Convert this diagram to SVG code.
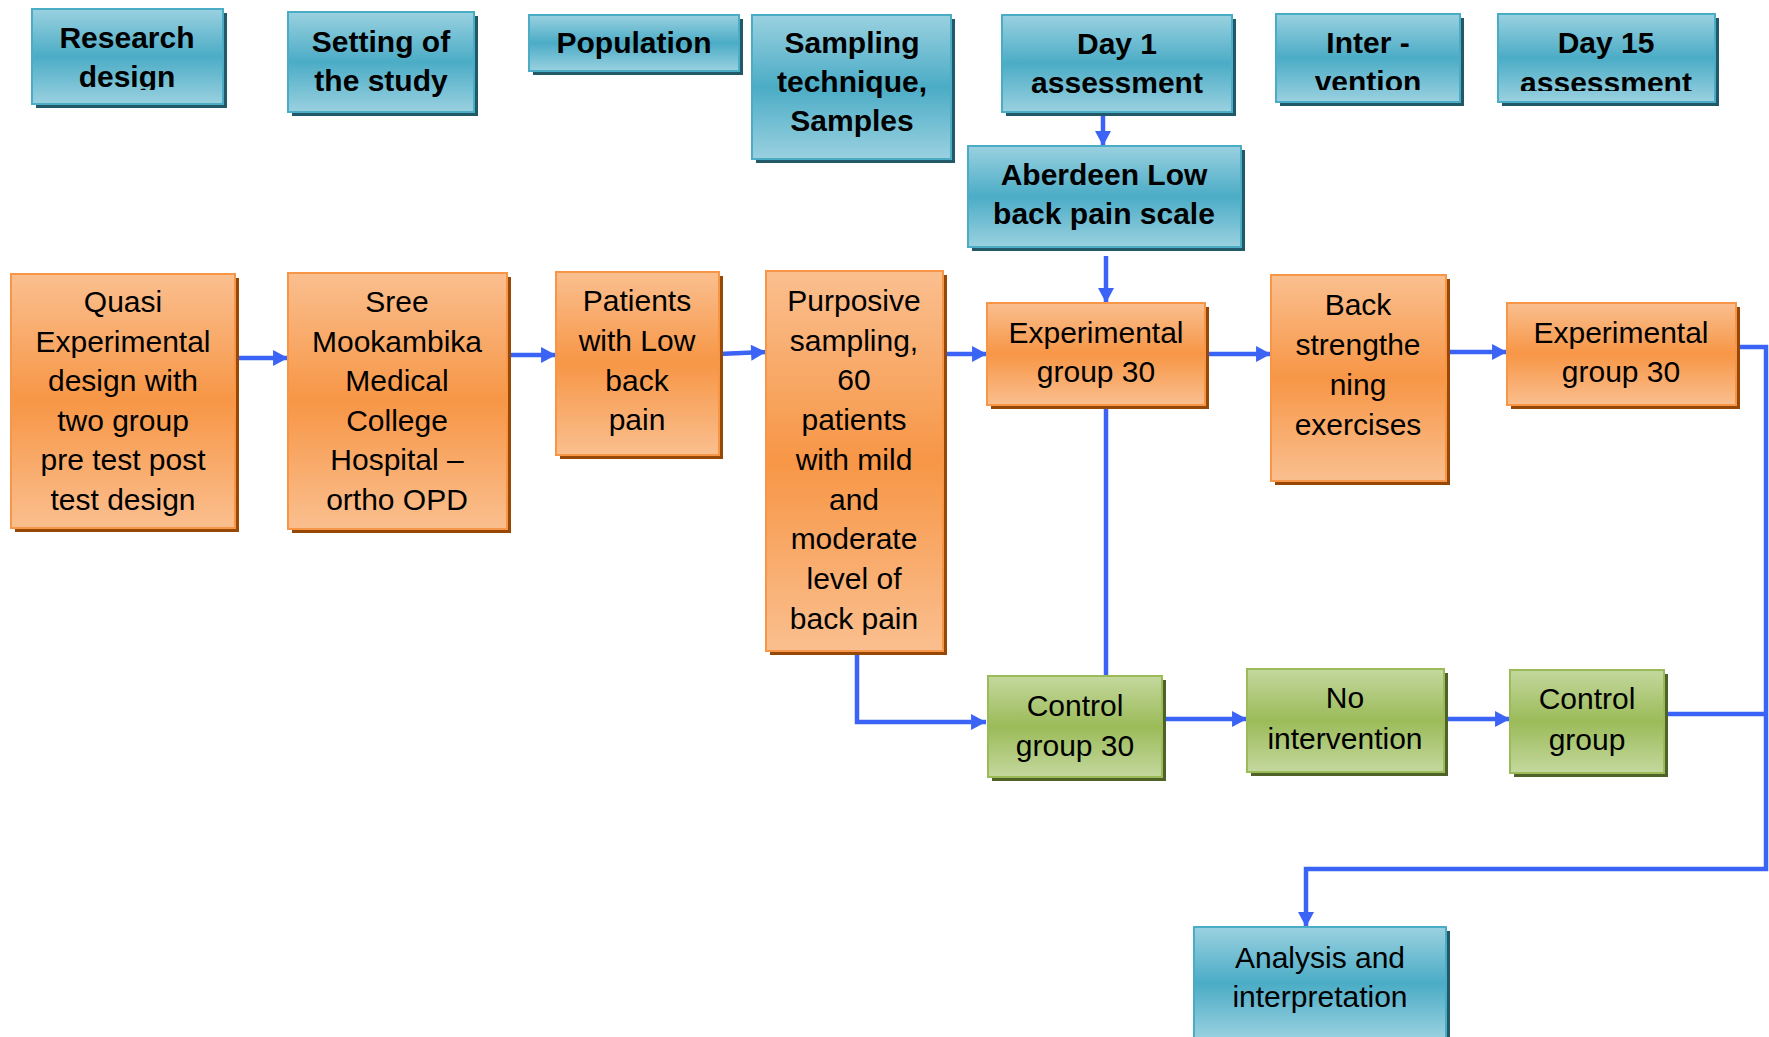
<svg xmlns="http://www.w3.org/2000/svg" width="1769" height="1037" viewBox="0 0 1769 1037">
<defs>
<linearGradient id="gBlue" x1="0" y1="0" x2="0" y2="1">
<stop offset="0" stop-color="#9ad1e0"/><stop offset="0.5" stop-color="#4bacc6"/><stop offset="1" stop-color="#9ad1e0"/>
</linearGradient>
<linearGradient id="gOrange" x1="0" y1="0" x2="0" y2="1">
<stop offset="0" stop-color="#fabf8f"/><stop offset="0.5" stop-color="#f79646"/><stop offset="1" stop-color="#fabf8f"/>
</linearGradient>
<linearGradient id="gGreen" x1="0" y1="0" x2="0" y2="1">
<stop offset="0" stop-color="#c4d89e"/><stop offset="0.5" stop-color="#9bbb59"/><stop offset="1" stop-color="#c4d89e"/>
</linearGradient>
<marker id="arr" markerUnits="userSpaceOnUse" markerWidth="16" markerHeight="16" refX="14" refY="7.5" orient="auto" viewBox="0 0 14 15">
<path d="M0,0 L14,7.5 L0,15 z" fill="#3b64f6"/>
</marker>
<clipPath id="clipRD"><rect x="30" y="0" width="200" height="90"/></clipPath>
<clipPath id="clipInt"><rect x="1270" y="0" width="200" height="90"/></clipPath>
<clipPath id="clipD15"><rect x="1490" y="0" width="230" height="91"/></clipPath>
</defs>
<style>
.sb{fill:#215968}
.so{fill:#984806}
.sg{fill:#4f6228}
.bb{fill:url(#gBlue);stroke:#4bacc6;stroke-width:2}
.bo{fill:url(#gOrange);stroke:#f79646;stroke-width:2}
.bg{fill:url(#gGreen);stroke:#9bbb59;stroke-width:2}
text{font-family:"Liberation Sans",Arial,sans-serif;font-size:30px;fill:#000;text-anchor:middle}
.h{font-weight:bold}
.c{fill:none;stroke:#3b64f6;stroke-width:4.5}
</style>

<g id="connectors">
<path class="c" d="M235,358 H288" marker-end="url(#arr)"/>
<path class="c" d="M507,355 H556" marker-end="url(#arr)"/>
<path class="c" d="M719,354 L766,352" marker-end="url(#arr)"/>
<path class="c" d="M943,354 H987" marker-end="url(#arr)"/>
<path class="c" d="M1103,112 V146" marker-end="url(#arr)"/>
<path class="c" d="M1106,256 V303" marker-end="url(#arr)"/>
<path class="c" d="M1106,406 V676"/>
<path class="c" d="M857,652 V722 H986" marker-end="url(#arr)"/>
<path class="c" d="M1205,354 H1271" marker-end="url(#arr)"/>
<path class="c" d="M1446,352 H1507" marker-end="url(#arr)"/>
<path class="c" d="M1162,719 H1247" marker-end="url(#arr)"/>
<path class="c" d="M1444,719 H1510" marker-end="url(#arr)"/>
<path class="c" d="M1740,347 H1766 V869 H1306 V927" marker-end="url(#arr)"/>
<path class="c" d="M1668,714 H1766"/>
</g>

<g id="research-design">
<rect class="sb" x="36" y="13" width="191" height="95"/>
<rect class="bb" x="32" y="9" width="191" height="95"/>
<g clip-path="url(#clipRD)"><text class="h" x="127" y="48">Research</text><text class="h" x="127" y="87">design</text></g>
</g>
<g id="setting">
<rect class="sb" x="292" y="16" width="186" height="100"/>
<rect class="bb" x="288" y="12" width="186" height="100"/>
<text class="h" x="381" y="52">Setting of</text><text class="h" x="381" y="91">the study</text>
</g>
<g id="population">
<rect class="sb" x="533" y="19" width="210" height="56"/>
<rect class="bb" x="529" y="15" width="210" height="56"/>
<text class="h" x="634" y="53">Population</text>
</g>
<g id="sampling">
<rect class="sb" x="756" y="19" width="199" height="144"/>
<rect class="bb" x="752" y="15" width="199" height="144"/>
<text class="h" x="852" y="53">Sampling</text><text class="h" x="852" y="92">technique,</text><text class="h" x="852" y="131">Samples</text>
</g>
<g id="day1">
<rect class="sb" x="1006" y="19" width="230" height="97"/>
<rect class="bb" x="1002" y="15" width="230" height="97"/>
<text class="h" x="1117" y="54">Day 1</text><text class="h" x="1117" y="93">assessment</text>
</g>
<g id="intervention">
<rect class="sb" x="1280" y="18" width="184" height="88"/>
<rect class="bb" x="1276" y="14" width="184" height="88"/>
<g clip-path="url(#clipInt)"><text class="h" x="1368" y="53">Inter -</text><text class="h" x="1368" y="92">vention</text></g>
</g>
<g id="day15">
<rect class="sb" x="1502" y="18" width="217" height="88"/>
<rect class="bb" x="1498" y="14" width="217" height="88"/>
<g clip-path="url(#clipD15)"><text class="h" x="1606" y="53">Day 15</text><text class="h" x="1606" y="93">assessment</text></g>
</g>
<g id="aberdeen">
<rect class="sb" x="972" y="150" width="273" height="101"/>
<rect class="bb" x="968" y="146" width="273" height="101"/>
<text class="h" x="1104" y="185">Aberdeen Low</text><text class="h" x="1104" y="224">back pain scale</text>
</g>

<g id="quasi">
<rect class="so" x="15" y="278" width="224" height="254"/>
<rect class="bo" x="11" y="274" width="224" height="254"/>
<text x="123" y="312">Quasi</text><text x="123" y="352">Experimental</text><text x="123" y="391">design with</text><text x="123" y="431">two group</text><text x="123" y="470">pre test post</text><text x="123" y="510">test design</text>
</g>
<g id="sree">
<rect class="so" x="292" y="277" width="219" height="256"/>
<rect class="bo" x="288" y="273" width="219" height="256"/>
<text x="397" y="312">Sree</text><text x="397" y="352">Mookambika</text><text x="397" y="391">Medical</text><text x="397" y="431">College</text><text x="397" y="470">Hospital –</text><text x="397" y="510">ortho OPD</text>
</g>
<g id="patients">
<rect class="so" x="560" y="276" width="163" height="183"/>
<rect class="bo" x="556" y="272" width="163" height="183"/>
<text x="637" y="311">Patients</text><text x="637" y="351">with Low</text><text x="637" y="391">back</text><text x="637" y="430">pain</text>
</g>
<g id="purposive">
<rect class="so" x="770" y="275" width="177" height="380"/>
<rect class="bo" x="766" y="271" width="177" height="380"/>
<text x="854" y="311">Purposive</text><text x="854" y="351">sampling,</text><text x="854" y="390">60</text><text x="854" y="430">patients</text><text x="854" y="470">with mild</text><text x="854" y="510">and</text><text x="854" y="549">moderate</text><text x="854" y="589">level of</text><text x="854" y="629">back pain</text>
</g>
<g id="exp1">
<rect class="so" x="991" y="307" width="218" height="102"/>
<rect class="bo" x="987" y="303" width="218" height="102"/>
<text x="1096" y="343">Experimental</text><text x="1096" y="382">group 30</text>
</g>
<g id="back">
<rect class="so" x="1275" y="279" width="175" height="206"/>
<rect class="bo" x="1271" y="275" width="175" height="206"/>
<text x="1358" y="315">Back</text><text x="1358" y="355">strengthe</text><text x="1358" y="395">ning</text><text x="1358" y="435">exercises</text>
</g>
<g id="exp2">
<rect class="so" x="1511" y="307" width="229" height="102"/>
<rect class="bo" x="1507" y="303" width="229" height="102"/>
<text x="1621" y="343">Experimental</text><text x="1621" y="382">group 30</text>
</g>

<g id="control30">
<rect class="sg" x="992" y="680" width="174" height="101"/>
<rect class="bg" x="988" y="676" width="174" height="101"/>
<text x="1075" y="716">Control</text><text x="1075" y="756">group 30</text>
</g>
<g id="nointervention">
<rect class="sg" x="1251" y="673" width="197" height="103"/>
<rect class="bg" x="1247" y="669" width="197" height="103"/>
<text x="1345" y="708">No</text><text x="1345" y="749">intervention</text>
</g>
<g id="controlgroup">
<rect class="sg" x="1514" y="674" width="154" height="103"/>
<rect class="bg" x="1510" y="670" width="154" height="103"/>
<text x="1587" y="709">Control</text><text x="1587" y="750">group</text>
</g>

<g id="analysis">
<rect class="sb" x="1198" y="931" width="252" height="110"/>
<rect class="bb" x="1194" y="927" width="252" height="112"/>
<text x="1320" y="968">Analysis and</text><text x="1320" y="1007">interpretation</text>
</g>
</svg>
